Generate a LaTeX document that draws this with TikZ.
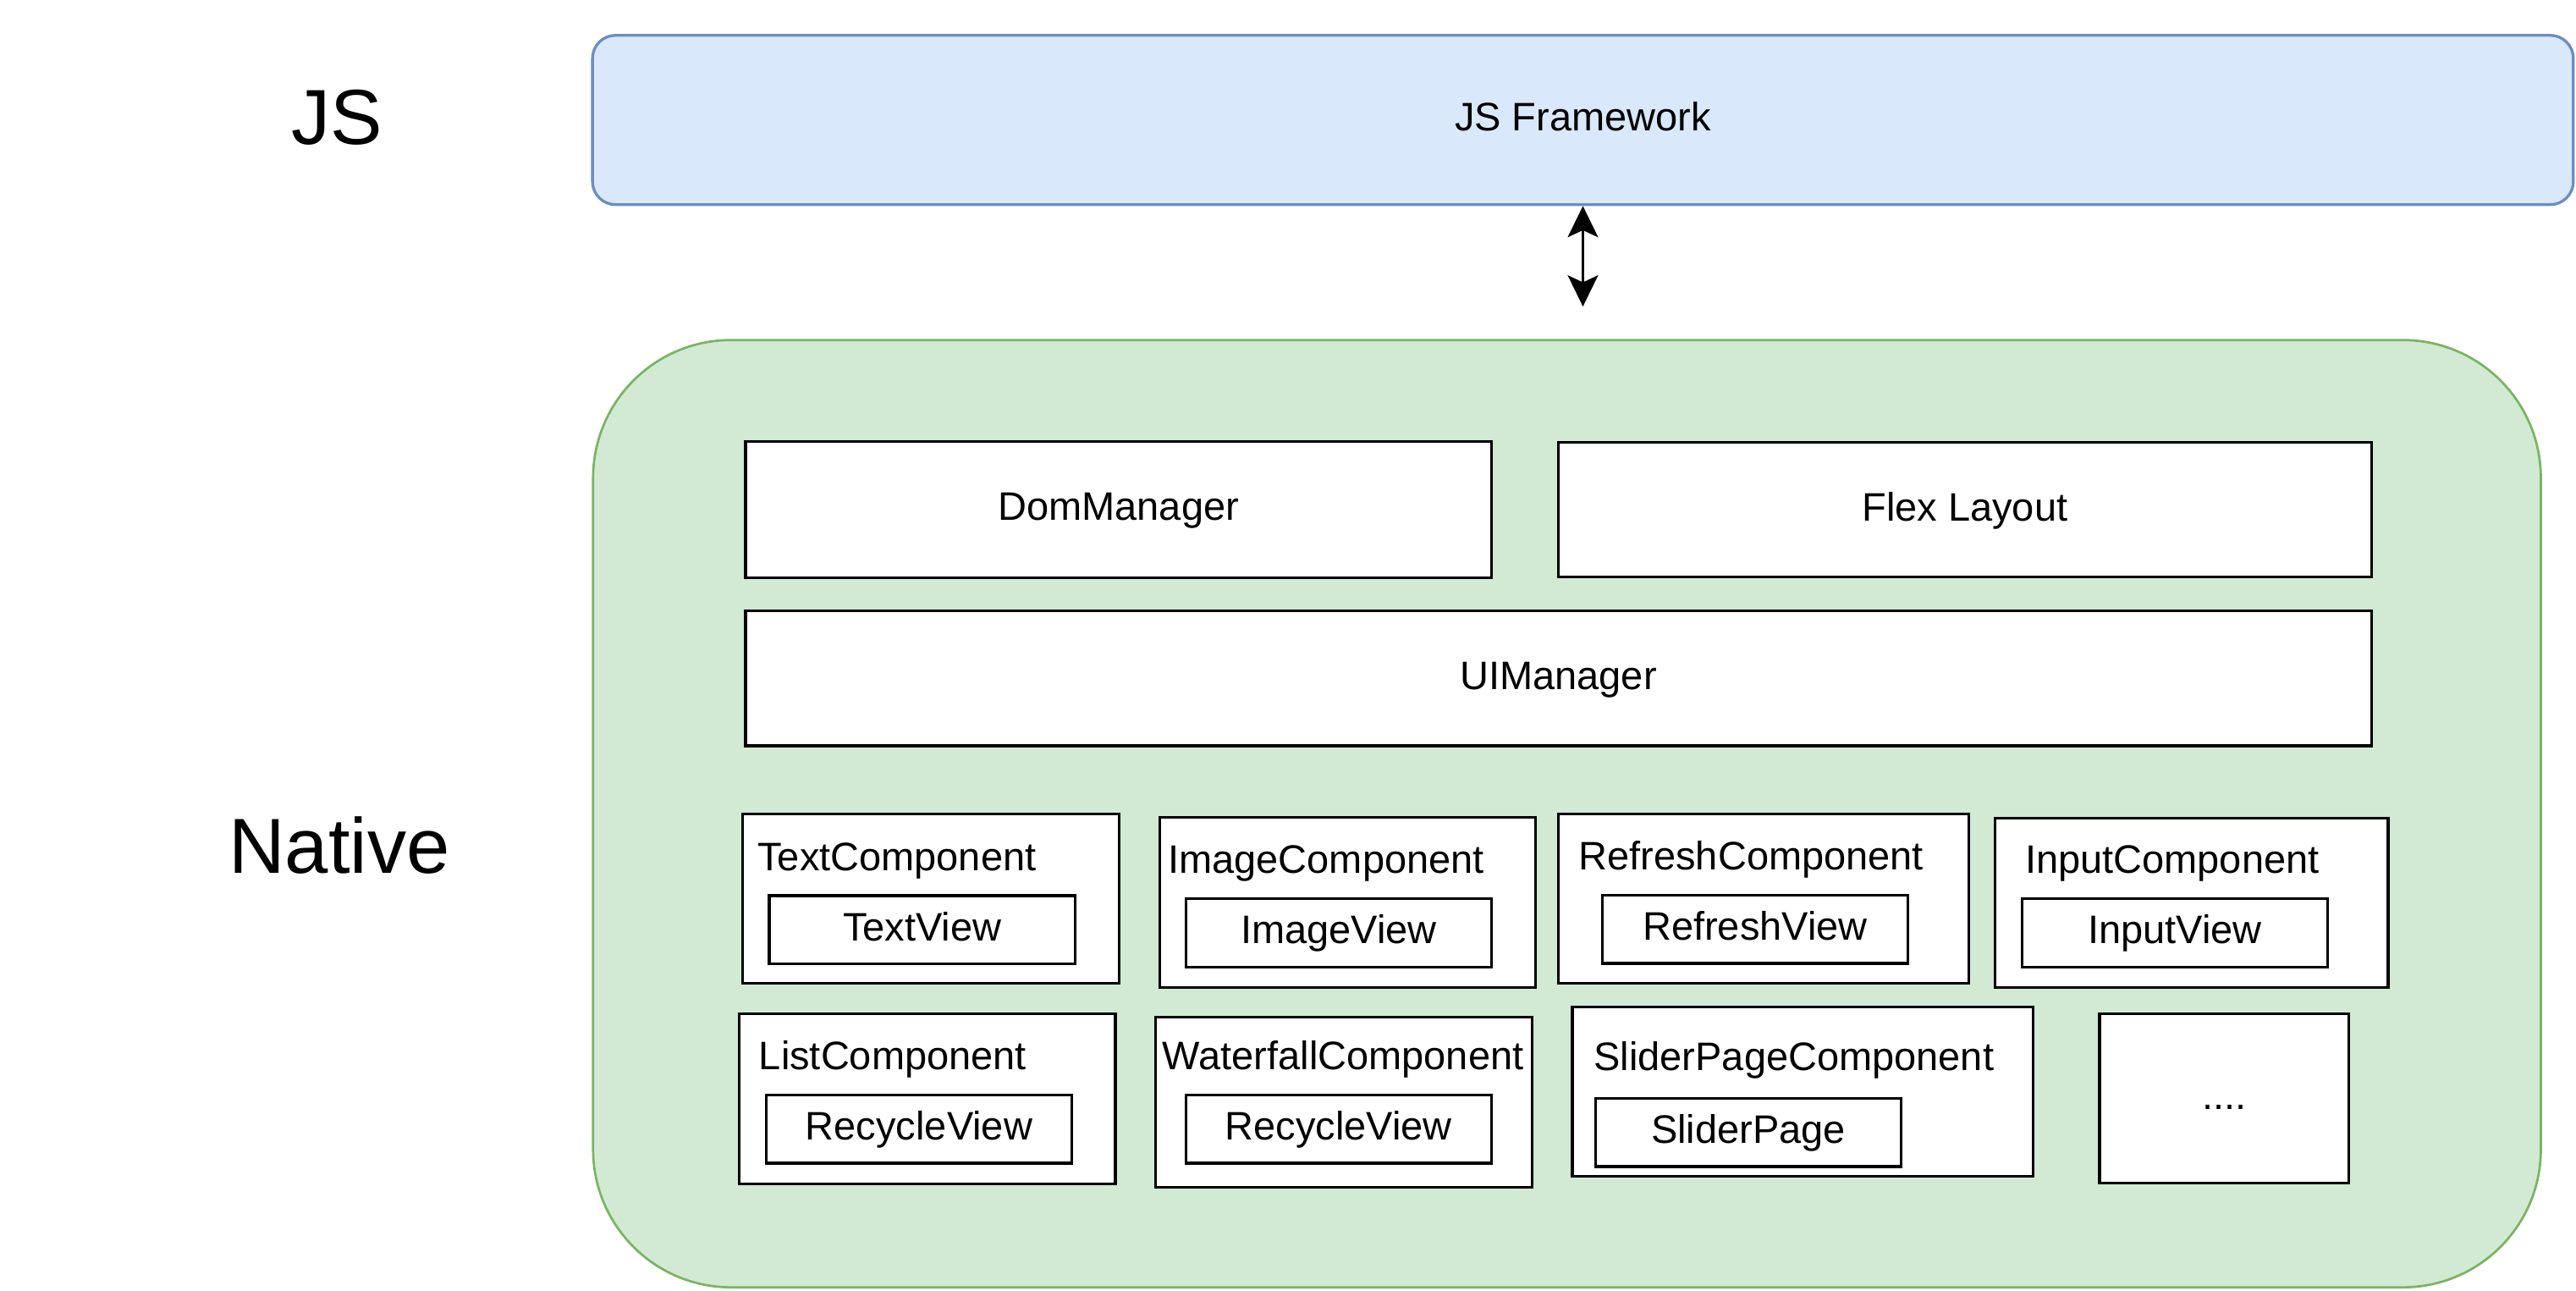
\documentclass[tikz,border=0pt]{standalone}
\usepackage{fontspec}
\setmainfont{Liberation Sans}
\usetikzlibrary{arrows.meta}
\definecolor{jsfill}{HTML}{DAE8FC}
\definecolor{jsline}{HTML}{6C8EBF}
\definecolor{nativefill}{HTML}{D2E9D4}
\definecolor{nativeline}{HTML}{7AB462}
\tikzset{
  layer/.style={draw,inner sep=0pt,text height=17.4pt,text depth=4.1pt},
  modbox/.style={draw=black,fill=white,line width=1.7pt,inner sep=0pt,text height=17.4pt,text depth=4.1pt},
  compbox/.style={modbox},
  viewbox/.style={modbox,minimum width=186pt,minimum height=41.5pt},
  complabel/.style={anchor=base west,inner sep=0pt},
  sidelabel/.style={inner sep=0pt,font=\fontsize{47.5}{57}\selectfont}
}
\begin{document}
\begin{tikzpicture}[x=1pt,y=-1pt,font=\fontsize{24.2}{29}\selectfont,>={Stealth[length=19pt,width=18.5pt,inset=4.3pt]}]
\useasboundingbox (0,0) rectangle (1568,785.03);
% layers
\node[layer,fill=jsfill,draw=jsline,line width=1.7pt,rounded corners=14pt,minimum width=1205.7pt,minimum height=103pt] (jsfw) at (963.5,73) {JS Framework};
\node[layer,fill=nativefill,draw=nativeline,line width=1.4pt,rounded corners=84pt,minimum width=1185.6pt,minimum height=576.4pt] (native) at (953.8,495.1) {};
\node[sidelabel] (jslab) at (205,71.6) {JS};
\node[sidelabel] (nativelab) at (206.6,514.3) {Native};
\coordinate (bridge) at (963.5,186.5);
\draw[<->,line width=1.4pt] (jsfw.south) -- (bridge);
% managers
\node[modbox,minimum width=454pt,minimum height=82.8pt] (dom) at (680.8,310.1) {DomManager};
\node[modbox,minimum width=495pt,minimum height=82pt] (flex) at (1196,310.2) {Flex Layout};
\node[modbox,minimum width=989.6pt,minimum height=82pt] (ui) at (948.6,412.8) {UIManager};
% components, first row
\node[compbox,minimum width=229.3pt,minimum height=103pt] (text) at (566.6,546.9) {};
\node[viewbox] (textview) at (561.3,565.7) {TextView};
\node[complabel] (textlab) at (461,529.7) {TextComponent};
\node[compbox,minimum width=229pt,minimum height=103.6pt] (image) at (820.3,549.2) {};
\node[viewbox] (imageview) at (814.8,567.6) {ImageView};
\node[complabel] (imagelab) at (710.8,531.4) {ImageComponent};
\node[compbox,minimum width=249.7pt,minimum height=103pt] (refresh) at (1073.4,546.9) {};
\node[viewbox] (refreshview) at (1068.3,565.5) {RefreshView};
\node[complabel] (refreshlab) at (960.8,529.4) {RefreshComponent};
\node[compbox,minimum width=239.4pt,minimum height=102.9pt] (input) at (1334,549.3) {};
\node[viewbox] (inputview) at (1323.9,567.6) {InputView};
\node[complabel] (inputlab) at (1232.5,531.1) {InputComponent};
% components, second row
\node[compbox,minimum width=229pt,minimum height=103.6pt] (list) at (564.4,668.7) {};
\node[viewbox] (listview) at (559.4,687) {RecycleView};
\node[complabel] (listlab) at (461.8,650.8) {ListComponent};
\node[compbox,minimum width=229pt,minimum height=103.4pt] (waterfall) at (818,670.7) {};
\node[viewbox] (waterfallview) at (814.8,687) {RecycleView};
\node[complabel] (waterfalllab) at (707.5,650.8) {WaterfallComponent};
\node[compbox,minimum width=280.6pt,minimum height=103pt] (slider) at (1097.3,664.3) {};
\node[viewbox] (sliderview) at (1064.2,689) {SliderPage};
\node[complabel] (sliderlab) at (970,651.2) {SliderPageComponent};
\node[compbox,minimum width=151.8pt,minimum height=102.9pt] (more) at (1353.9,668.4) {....};
\end{tikzpicture}
\end{document}
